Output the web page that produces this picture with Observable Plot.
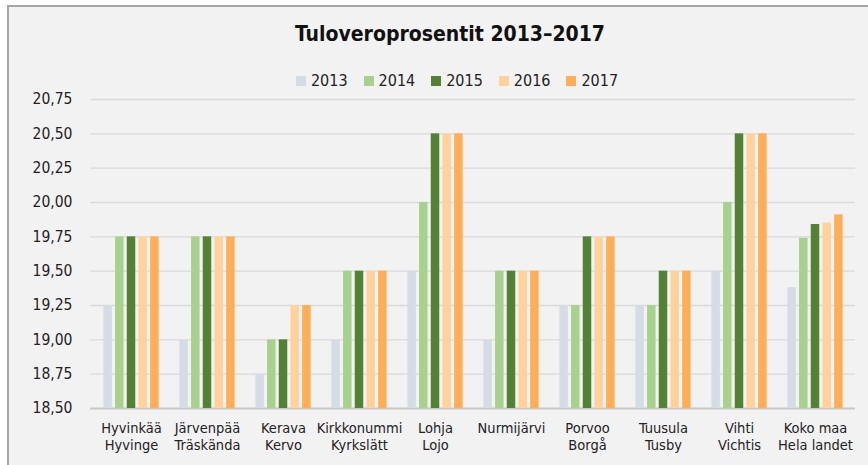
<!DOCTYPE html>
<html>
<head>
<meta charset="utf-8">
<script src="https://cdn.jsdelivr.net/npm/d3@7"></script>
<script src="https://cdn.jsdelivr.net/npm/@observablehq/plot@0.6"></script>
<style>
  html, body { margin: 0; padding: 0; background: #ffffff; }
  body { width: 868px; height: 465px; overflow: hidden; position: relative;
         font-family: "DejaVu Sans Condensed", "Liberation Sans", sans-serif; }
  #frame { position: absolute; left: 7px; top: 5px; width: 870px; height: 470px;
           background: #f2f2f2; border-top: 2px solid #a6a6a6; border-left: 2px solid #a6a6a6; }
  #title { position: absolute; left: 0; top: 22px; width: 900px; text-align: center;
           font-weight: bold; font-size: 21px; color: #111; }
  #legend { position: absolute; left: 0; top: 71px; width: 914px; display: flex; justify-content: center;
            gap: 16px; font-size: 16px; color: #222; }
  .item { display: flex; align-items: center; gap: 5px; }
  .sw { width: 10px; height: 10px; display: inline-block; }
  #chart { position: absolute; left: 0; top: 90px; }
</style>
</head>
<body>
<div id="frame"></div>
<div id="title">Tuloveroprosentit 2013–2017</div>
<div id="legend"></div>
<div id="chart"></div>
<script>
const categories = ["Hyvinkää\nHyvinge", "Järvenpää\nTräskända", "Kerava\nKervo", "Kirkkonummi\nKyrkslätt", "Lohja\nLojo", "Nurmijärvi", "Porvoo\nBorgå", "Tuusula\nTusby", "Vihti\nVichtis", "Koko maa\nHela landet"];
const years = ["2013", "2014", "2015", "2016", "2017"];
const v2013 = [19.25, 19.00, 18.75, 19.00, 19.50, 19.00, 19.25, 19.25, 19.50, 19.38];
const v2014 = [19.75, 19.75, 19.00, 19.50, 20.00, 19.50, 19.25, 19.25, 20.00, 19.74];
const v2015 = [19.75, 19.75, 19.00, 19.50, 20.50, 19.50, 19.75, 19.50, 20.50, 19.84];
const v2016 = [19.75, 19.75, 19.25, 19.50, 20.50, 19.50, 19.75, 19.50, 20.50, 19.85];
const v2017 = [19.75, 19.75, 19.25, 19.50, 20.50, 19.50, 19.75, 19.50, 20.50, 19.91];
const yTicks = [18.50, 18.75, 19.00, 19.25, 19.50, 19.75, 20.00, 20.25, 20.50, 20.75];
const colors = ["#d6dce5", "#a9d18e", "#548235", "#ffd29c", "#ffae58"];

const series = [v2013, v2014, v2015, v2016, v2017];
const fmt = v => d3.format(".2f")(v).replace(".", ",");

// legend
const legend = document.getElementById("legend");
years.forEach((y, i) => {
  const it = document.createElement("div");
  it.className = "item";
  it.innerHTML = `<span class="sw" style="background:${colors[i]}"></span><span>${y}</span>`;
  legend.appendChild(it);
});

const width = 868, height = 375;
const mL = 90, mR = 13;
const step = (width - mL - mR) / categories.length;
const barW = 9, barStep = 11.7;
const inset = (step - barW) / 2;

const marks = [
  Plot.ruleY(yTicks.slice(1), {stroke: "#d9d9d9", strokeWidth: 1.3}),
  Plot.ruleY([yTicks[0]], {stroke: "#c8c8c8", strokeWidth: 2})
];
series.forEach((vals, i) => {
  const data = categories.map((c, j) => ({cat: c, value: vals[j]}));
  marks.push(Plot.barY(data, {
    x: "cat", y1: yTicks[0], y2: "value", fill: colors[i],
    insetLeft: inset, insetRight: inset, dx: (i - 2) * barStep
  }));
});
marks.push(Plot.text(categories, {
  x: d => d, y: yTicks[0], text: d => d, dy: 12, lineAnchor: "top",
  lineHeight: 1.2, fontSize: 14.5, fill: "#222"
}));

const chart = Plot.plot({
  width, height,
  marginLeft: mL, marginRight: mR, marginTop: 9, marginBottom: 57,
  style: {background: "transparent", fontFamily: '"DejaVu Sans Condensed", "Liberation Sans", sans-serif', fontSize: "15.5px", color: "#222", overflow: "visible"},
  x: {domain: categories, padding: 0, axis: null},
  y: {domain: [yTicks[0], yTicks[yTicks.length - 1]], ticks: yTicks, tickFormat: fmt, tickSize: 0, tickPadding: 18, label: null},
  marks
});
document.getElementById("chart").appendChild(chart);
</script>
</body>
</html>
